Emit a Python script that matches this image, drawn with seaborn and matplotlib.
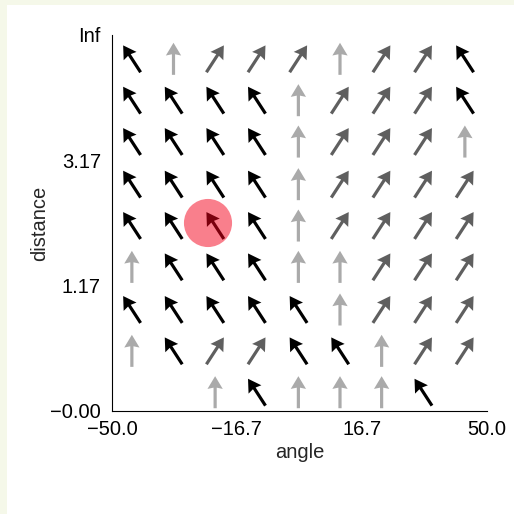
import numpy as np
import pandas as pd
import matplotlib
matplotlib.use("Agg")
import matplotlib.pyplot as plt
import seaborn as sns
from matplotlib.patches import Rectangle

# grid of arrow centres (angle on x, distance on y)
angles = [-44.7, -33.6, -22.5, -11.4, -0.3, 10.8, 21.9, 33.0, 44.1]
distances = [2.81, 2.48, 2.15, 1.81, 1.48, 1.15, 0.81, 0.48, 0.15]

# arrow direction per cell, top row first: L = up-left, U = up, R = up-right, . = none
rows = [
    "LURRRURRL",
    "LLLLURRRL",
    "LLLLURRRU",
    "LLLLURRRR",
    "LLLLURRRR",
    "ULLLUURRR",
    "LLLLLURRR",
    "ULRRLLURR",
    "..ULUUUL.",
]

# current position marker
marker_angle = [-24.4]
marker_dist = [1.50]

xtick_pos = [-50, -16.7, 16.7, 50]
xtick_lab = ["\u221250.0", "\u221216.7", "16.7", "50.0"]
ytick_pos = [0, 1, 2, 3]
ytick_lab = ["\u22120.00", "1.17", "3.17", "Inf"]

tilt = {"L": -33, "U": 0, "R": 33}
colour = {"L": "#000000", "U": "#aaaaaa", "R": "#5f5f5f"}

recs = []
for r, line in enumerate(rows):
    for c, code in enumerate(line):
        if code == ".":
            continue
        recs.append((angles[c], distances[r], code))
df = pd.DataFrame(recs, columns=["angle", "distance", "code"])
df["u"] = np.sin(np.radians(df.code.map(tilt)))
df["v"] = np.cos(np.radians(df.code.map(tilt)))

sns.set_style("white")
plt.rcParams["font.family"] = ["Liberation Sans", "DejaVu Sans"]

fig = plt.figure(figsize=(5.14, 5.14), dpi=100)
fig.patch.set_facecolor("#f5f8e9")
fig.patches.append(Rectangle((7 / 514, 0), 1, 1 - 5 / 514, transform=fig.transFigure,
                             facecolor="white", edgecolor="none", zorder=-10))
ax = fig.add_axes([112 / 514, 1 - 411 / 514, 375 / 514, 376 / 514])
ax.set_facecolor("none")

for code in ["U", "R", "L"]:
    sub = df[df.code == code]
    ax.quiver(sub.angle, sub.distance, sub.u, sub.v, color=colour[code],
              angles="uv", scale_units="width", scale=11.7, pivot="middle",
              width=0.0085, headwidth=4.8, headlength=4.0, headaxislength=3.6,
              zorder=2)

sns.scatterplot(x=marker_angle, y=marker_dist, ax=ax, s=1200, color="#f5001a",
                alpha=0.5, edgecolor="none", zorder=3, legend=False)

ax.set_xlim(-50, 50)
ax.set_ylim(0, 3)
ax.set_xticks(xtick_pos)
ax.set_xticklabels(xtick_lab)
ax.set_yticks(ytick_pos)
ax.set_yticklabels(ytick_lab)
ax.tick_params(direction="in", length=5, width=0.8, labelsize=14.5,
               colors="black")
ax.tick_params(axis="x", pad=6.5)
ax.tick_params(axis="y", pad=8)
ax.set_xlabel("angle", fontsize=14.5, labelpad=2.5)
ax.set_ylabel("distance", fontsize=14.5, labelpad=0.5)

sns.despine(ax=ax)
for s in ["left", "bottom"]:
    ax.spines[s].set_color("black")
    ax.spines[s].set_linewidth(0.8)

fig.savefig("out.png", dpi=100)
